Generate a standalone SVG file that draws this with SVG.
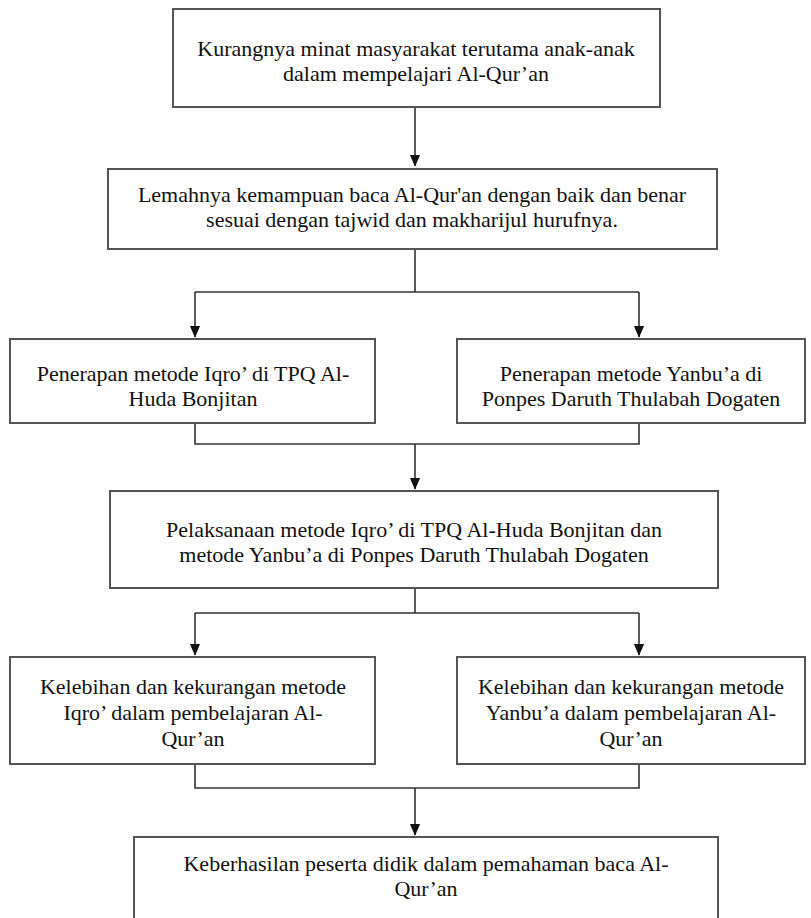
<svg xmlns="http://www.w3.org/2000/svg" width="811" height="918" viewBox="0 0 811 918">
<style>
.box{fill:#fff;stroke:#555;stroke-width:2}
.t{font-family:"Liberation Serif","Times New Roman",serif;font-size:22px;fill:#111;text-anchor:middle}
.c{fill:none;stroke:#333;stroke-width:1.6}
</style>
<defs>
<marker id="ah" markerUnits="userSpaceOnUse" markerWidth="12" markerHeight="14" refX="6" refY="12" orient="auto-start-reverse" viewBox="0 0 12 14">
<path d="M0,0 L12,0 L6,12 Z" fill="#111" transform="rotate(-90 6 6)"/>
</marker>
<marker id="arr" markerUnits="userSpaceOnUse" markerWidth="12" markerHeight="14" refX="13" refY="6" orient="auto" viewBox="0 0 14 12">
<path d="M0,0 L14,6 L0,12 Z" fill="#111"/>
</marker>
</defs>
<rect width="811" height="918" fill="#fff"/>
<g id="connectors">
<path class="c" d="M415,107 V166" marker-end="url(#arr)"/>
<path class="c" d="M415,249 V292 M195,292 H639"/>
<path class="c" d="M195,292 V337" marker-end="url(#arr)"/>
<path class="c" d="M639,292 V337" marker-end="url(#arr)"/>
<path class="c" d="M195,423 V444 H639 V423"/>
<path class="c" d="M415,444 V489" marker-end="url(#arr)"/>
<path class="c" d="M415,588 V613 M195,613 H639"/>
<path class="c" d="M195,613 V655" marker-end="url(#arr)"/>
<path class="c" d="M639,613 V655" marker-end="url(#arr)"/>
<path class="c" d="M195,764 V788 H639 V764"/>
<path class="c" d="M415,788 V835" marker-end="url(#arr)"/>
</g>
<g id="n1">
<rect class="box" x="173" y="9" width="487" height="98"/>
<text class="t" x="416" y="56">Kurangnya minat masyarakat terutama anak-anak</text>
<text class="t" x="416" y="81">dalam mempelajari Al-Qur’an</text>
</g>
<g id="n2">
<rect class="box" x="108" y="169" width="609" height="80"/>
<text class="t" x="412" y="202">Lemahnya kemampuan baca Al-Qur'an dengan baik dan benar</text>
<text class="t" x="412" y="227">sesuai dengan tajwid dan makharijul hurufnya.</text>
</g>
<g id="n3a">
<rect class="box" x="10" y="339" width="365" height="84"/>
<text class="t" x="193" y="381">Penerapan metode Iqro’ di TPQ Al-</text>
<text class="t" x="193" y="406">Huda Bonjitan</text>
</g>
<g id="n3b">
<rect class="box" x="457" y="339" width="348" height="84"/>
<text class="t" x="631" y="381">Penerapan metode Yanbu’a di</text>
<text class="t" x="631" y="406">Ponpes Daruth Thulabah Dogaten</text>
</g>
<g id="n4">
<rect class="box" x="110" y="491" width="608" height="97"/>
<text class="t" x="414" y="537">Pelaksanaan metode Iqro’ di TPQ Al-Huda Bonjitan dan</text>
<text class="t" x="414" y="562">metode Yanbu’a di Ponpes Daruth Thulabah Dogaten</text>
</g>
<g id="n5a">
<rect class="box" x="10" y="657" width="365" height="107"/>
<text class="t" x="193" y="694">Kelebihan dan kekurangan metode</text>
<text class="t" x="193" y="720">Iqro’ dalam pembelajaran Al-</text>
<text class="t" x="193" y="746">Qur’an</text>
</g>
<g id="n5b">
<rect class="box" x="457" y="657" width="348" height="107"/>
<text class="t" x="631" y="694">Kelebihan dan kekurangan metode</text>
<text class="t" x="631" y="720">Yanbu’a dalam pembelajaran Al-</text>
<text class="t" x="631" y="746">Qur’an</text>
</g>
<g id="n6">
<rect class="box" x="134" y="837" width="584" height="100"/>
<text class="t" x="426" y="871">Keberhasilan peserta didik dalam pemahaman baca Al-</text>
<text class="t" x="426" y="896">Qur’an</text>
</g>
</svg>
